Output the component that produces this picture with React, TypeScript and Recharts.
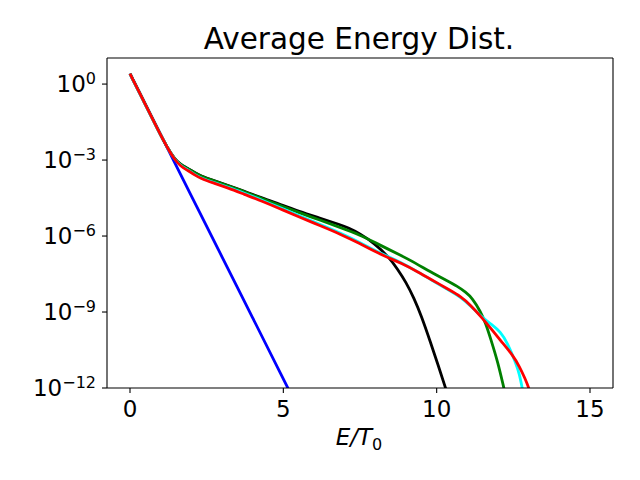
import React from 'react';
import { LineChart, Line, XAxis, YAxis, ReferenceLine } from 'recharts';

// energy grid (E/T0) and distribution values
const blueE = [0, 1, 2, 3, 4, 5, 5.5];
const blueF = [2.57, 1.0e-2, 3.89e-5, 1.51e-7, 5.89e-10, 2.29e-12, 1.41e-13];

const blackE = [0, 0.5, 0.9, 1.2, 1.45, 1.65, 1.87, 2.1, 2.3, 2.7, 3.2, 3.72, 4.3, 4.91, 5.5, 6.22, 6.87, 7.09, 7.5, 7.96, 8.45, 8.72, 9.0, 9.26, 9.5, 9.8, 10.05, 10.29, 10.5];
const blackF = [2.57, 1.6e-1, 1.66e-2, 3.31e-3, 1.12e-3, 6.61e-4, 4.79e-4, 3.24e-4, 2.4e-4, 1.585e-4, 1.0e-4, 6.03e-5, 3.16e-5, 1.78e-5, 9.55e-6, 5.01e-6, 2.75e-6, 2.19e-6, 1.26e-6, 5.25e-7, 1.45e-7, 5.01e-8, 1.51e-8, 3.55e-9, 7.08e-10, 6.31e-11, 7.94e-12, 1.0e-12, 1.585e-13];

const greenE = [0, 0.5, 0.9, 1.2, 1.45, 1.65, 1.87, 2.1, 2.3, 2.7, 3.2, 3.72, 4.3, 4.91, 5.5, 6.22, 6.87, 7.5, 7.96, 8.82, 9.3, 9.8, 10.3, 10.67, 10.95, 11.16, 11.43, 11.6, 11.76, 12.0, 12.19, 12.35];
const greenF = [2.57, 1.6e-1, 1.66e-2, 3.31e-3, 1.12e-3, 6.46e-4, 4.68e-4, 3.16e-4, 2.34e-4, 1.55e-4, 9.55e-5, 5.75e-5, 3.02e-5, 1.585e-5, 8.51e-6, 4.17e-6, 2.14e-6, 1.1e-6, 5.75e-7, 1.74e-7, 8.71e-8, 3.8e-8, 1.82e-8, 1.05e-8, 6.03e-9, 3.55e-9, 1.05e-9, 3.55e-10, 8.91e-11, 1.0e-11, 1.0e-12, 1.585e-13];

const cyanE = [0, 0.5, 0.9, 1.2, 1.45, 1.65, 1.87, 2.1, 2.3, 2.7, 3.2, 3.72, 4.3, 4.91, 5.5, 6.22, 6.87, 7.5, 7.96, 8.45, 8.82, 9.4, 9.8, 10.4, 10.78, 11.1, 11.49, 11.8, 12.08, 12.31, 12.58, 12.7, 12.79, 12.9];
const cyanF = [2.57, 1.6e-1, 1.66e-2, 3.31e-3, 1.07e-3, 6.03e-4, 4.17e-4, 2.75e-4, 2.0e-4, 1.32e-4, 8.51e-5, 4.9e-5, 2.63e-5, 1.29e-5, 6.46e-6, 2.82e-6, 1.29e-6, 5.62e-7, 2.75e-7, 1.48e-7, 9.33e-8, 3.8e-8, 1.91e-8, 7.24e-9, 3.89e-9, 1.78e-9, 6.03e-10, 3.16e-10, 1.66e-10, 6.03e-11, 9.77e-12, 3.55e-12, 1.0e-12, 2.0e-13];

const redE = [0, 0.5, 0.9, 1.2, 1.45, 1.65, 1.87, 2.1, 2.3, 2.7, 3.2, 3.72, 4.3, 4.91, 5.5, 6.22, 6.87, 7.5, 7.96, 8.45, 8.82, 9.4, 9.8, 10.4, 10.78, 11.1, 11.49, 11.8, 12.1, 12.48, 12.7, 12.88, 13.01, 13.15];
const redF = [2.57, 1.6e-1, 1.66e-2, 3.31e-3, 1.05e-3, 5.75e-4, 3.98e-4, 2.63e-4, 1.91e-4, 1.26e-4, 7.94e-5, 4.47e-5, 2.4e-5, 1.175e-5, 5.75e-6, 2.51e-6, 1.175e-6, 5.01e-7, 2.51e-7, 1.35e-7, 8.71e-8, 3.8e-8, 2.0e-8, 7.59e-9, 4.17e-9, 1.91e-9, 5.75e-10, 2.0e-10, 7.08e-11, 2.0e-11, 7.08e-12, 2.4e-12, 1.0e-12, 2.51e-13];

const xTicks = [0, 5, 10, 15];
const xDomain = [-0.75, 15.75];
const yTicks = [1e-12, 1e-9, 1e-6, 1e-3, 1];
const yTickExps = ['\u221212', '\u22129', '\u22126', '\u22123', '0'];
const yDomain = [1e-12, 10.7];

const FONT = '"DejaVu Sans", sans-serif';

const toRows = (e: number[], f: number[]) => e.map((x, i) => ({ x, y: f[i] }));

const series = [
  { name: 'blue', color: '#0000ff', data: toRows(blueE, blueF) },
  { name: 'black', color: '#000000', data: toRows(blackE, blackF) },
  { name: 'green', color: '#008000', data: toRows(greenE, greenF) },
  { name: 'cyan', color: '#00ffff', data: toRows(cyanE, cyanF) },
  { name: 'red', color: '#ff0000', data: toRows(redE, redF) },
];

// y tick as 10^n with superscript exponent
const YTick = (props: any) => {
  const { x, y, index } = props;
  return (
    <text x={x - 4} y={y + 8.3} textAnchor="end" fill="#000" fontFamily={FONT}>
      <tspan fontSize={23}>10</tspan>
      <tspan fontSize={16} dy={-8.5}>{yTickExps[index]}</tspan>
    </text>
  );
};

const XTick = (props: any) => {
  const { x, y, payload } = props;
  return (
    <text x={x} y={y + 21.7} textAnchor="middle" fill="#000" fontFamily={FONT} fontSize={23}>
      {payload.value}
    </text>
  );
};

const frame = { stroke: '#000', strokeWidth: 1.1 };

export default function App() {
  return (
    <div style={{ position: 'absolute', left: 0, top: 0, width: 640, height: 480, background: '#fff' }}>
      <LineChart width={640} height={480} margin={{ top: 58, right: 27, bottom: 62, left: 0 }}>
        <XAxis
          dataKey="x"
          type="number"
          domain={xDomain}
          ticks={xTicks}
          allowDataOverflow
          height={30}
          tickSize={5}
          tickMargin={2}
          tick={<XTick />}
          axisLine={frame}
          tickLine={frame}
        />
        <YAxis
          scale="log"
          type="number"
          domain={yDomain}
          ticks={yTicks}
          allowDataOverflow
          width={107}
          tickSize={5}
          tickMargin={2}
          tick={<YTick />}
          axisLine={frame}
          tickLine={frame}
        />
        {/* top and right spines */}
        <ReferenceLine y={yDomain[1]} stroke="#000" strokeWidth={1.1} ifOverflow="visible" />
        <ReferenceLine x={xDomain[1]} stroke="#000" strokeWidth={1.1} ifOverflow="visible" />
        {series.map((s) => (
          <Line
            key={s.name}
            data={s.data}
            dataKey="y"
            type="basis"
            stroke={s.color}
            strokeWidth={2.8}
            dot={false}
            activeDot={false}
            isAnimationActive={false}
          />
        ))}
      </LineChart>
      <svg width={640} height={480} style={{ position: 'absolute', left: 0, top: 0, pointerEvents: 'none' }}>
        <text x={359} y={48.5} textAnchor="middle" fontFamily={FONT} fontSize={29.5} fill="#000">
          Average Energy Dist.
        </text>
        <text x={359} y={445} textAnchor="middle" fontFamily={FONT} fontSize={23} fill="#000">
          <tspan fontStyle="italic">E/T</tspan>
          <tspan fontSize={16} dy={5}>0</tspan>
        </text>
      </svg>
    </div>
  );
}
